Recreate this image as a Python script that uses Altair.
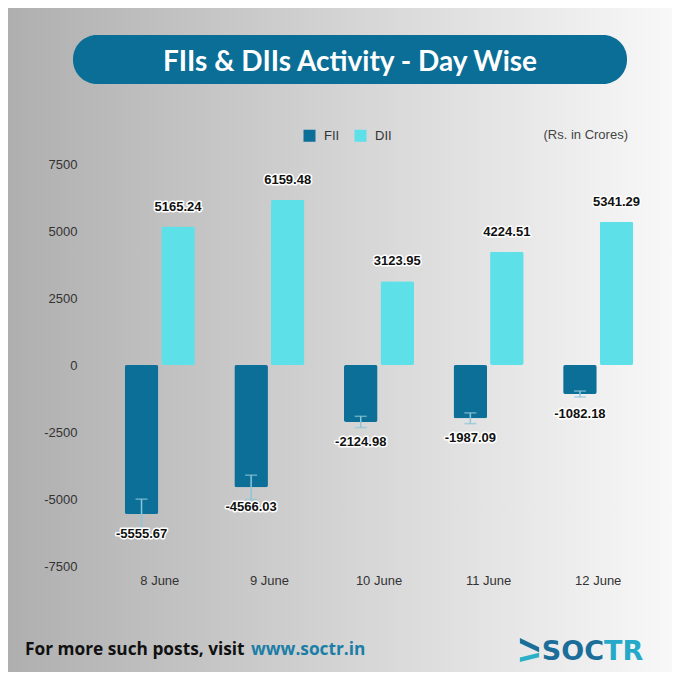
import altair as alt
import pandas as pd

# ---------------- data ----------------
days = ["8 June", "9 June", "10 June", "11 June", "12 June"]
fii = [-5555.67, -4566.03, -2124.98, -1987.09, -1082.18]
dii = [5165.24, 6159.48, 3123.95, 4224.51, 5341.29]
fii_err = [550, 455, 210, 200, 110]
series = ["FII", "DII"]
colors = ["#0c6f98", "#5ee0e8"]
y_ticks = [-7500, -5000, -2500, 0, 2500, 5000, 7500]

rows = []
for d, f, e in zip(days, fii, fii_err):
    rows.append(dict(day=d, series="FII", value=f, lo=f - e, hi=f + e, label=f"{f:.2f}"))
for d, v in zip(days, dii):
    rows.append(dict(day=d, series="DII", value=v, lo=v, hi=v, label=f"{v:.2f}"))
df = pd.DataFrame(rows)

W, H = 548, 402
one = alt.Data(values=[{"k": 1}])
AX_FONT = "Liberation Sans"

x_enc = alt.X(
    "day:N",
    scale=alt.Scale(domain=days, paddingInner=0.36, paddingOuter=0.18),
    axis=alt.Axis(title=None, labelAngle=0, ticks=False, domain=False, grid=False,
                  labelPadding=8, labelFont=AX_FONT, labelFontSize=13,
                  labelColor="#333333", zindex=2),
)
xo_enc = alt.XOffset("series:N", scale=alt.Scale(domain=series, paddingInner=0.08))
y_enc = alt.Y(
    "value:Q",
    scale=alt.Scale(domain=[-7500, 7500], nice=False),
    axis=alt.Axis(values=y_ticks, title=None, grid=False, ticks=False, domain=False,
                  labelPadding=28, labelExpr="toString(datum.value)",
                  labelFont=AX_FONT, labelFontSize=13, labelColor="#333333", zindex=2),
)

# ---------------- decorations ----------------
grad = alt.Gradient(
    gradient="linear",
    stops=[alt.GradientStop(color="#afafaf", offset=0),
           alt.GradientStop(color="#f8f8f8", offset=1)],
    x1=0, x2=1, y1=0, y2=0,
)
bg = alt.Chart(one).mark_rect(color=grad).encode(
    x=alt.value(-97), x2=alt.value(567), y=alt.value(-156), y2=alt.value(508)
)
pill = alt.Chart(one).mark_rect(color="#0b6e96", cornerRadius=24).encode(
    x=alt.value(-32), x2=alt.value(522), y=alt.value(-129), y2=alt.value(-80)
)
title = alt.Chart(one).mark_text(
    text="FIIs & DIIs Activity - Day Wise", font="Lato", fontWeight="bold",
    fontSize=28, color="white", align="center", baseline="alphabetic"
).encode(x=alt.value(245), y=alt.value(-93))
units = alt.Chart(one).mark_text(
    text="(Rs. in Crores)", font=AX_FONT, fontSize=13, color="#444444",
    align="right", baseline="middle"
).encode(x=alt.value(523), y=alt.value(-29))

# ---------------- data marks ----------------
base = alt.Chart(df)
bars = base.mark_bar(cornerRadius=2).encode(
    x=x_enc, xOffset=xo_enc, y=y_enc,
    color=alt.Color(
        "series:N",
        scale=alt.Scale(domain=series, range=colors),
        legend=alt.Legend(orient="none", legendX=198, legendY=-35, direction="horizontal",
                          title=None, symbolType="square", symbolSize=144,
                          symbolStrokeWidth=0, labelFont=AX_FONT, labelFontSize=13,
                          labelColor="#333333", columnPadding=14, labelOffset=8,
                          padding=0, zindex=2),
    ),
)
fii_only = base.transform_filter("datum.series == 'FII'")
err_col = "#8cc6d8"
rule = fii_only.mark_rule(color=err_col, strokeWidth=1.5).encode(
    x=x_enc, xOffset=xo_enc, y="lo:Q", y2="hi:Q"
)
tick_lo = fii_only.mark_tick(color=err_col, thickness=1.5, size=12).encode(
    x=x_enc, xOffset=xo_enc, y="lo:Q"
)
tick_hi = fii_only.mark_tick(color=err_col, thickness=1.5, size=12).encode(
    x=x_enc, xOffset=xo_enc, y="hi:Q"
)


def labels(filt, dy):
    src = base.transform_filter(filt)
    enc = dict(x=x_enc, xOffset=xo_enc, y="value:Q", text="label:N")
    halo = src.mark_text(font=AX_FONT, fontWeight="bold", fontSize=13, dy=dy,
                         stroke="white", strokeWidth=3, strokeJoin="round",
                         color="white", baseline="middle").encode(**enc)
    txt = src.mark_text(font=AX_FONT, fontWeight="bold", fontSize=13, dy=dy,
                        color="#111111", baseline="middle").encode(**enc)
    return [halo, txt]


lab = labels("datum.value >= 0", -20) + labels("datum.value < 0", 20)

# ---------------- footer ----------------
foot1 = alt.Chart(one).mark_text(
    text="For more such posts, visit", font="Open Sans", fontWeight="bold", fontSize=17.3,
    color="#111111", align="left", baseline="middle"
).encode(x=alt.value(-80), y=alt.value(486))
foot2 = alt.Chart(one).mark_text(
    text="www.soctr.in", font="Open Sans", fontWeight="bold", fontSize=17.3,
    color="#1b7ea7", align="left", baseline="middle"
).encode(x=alt.value(146), y=alt.value(486))

top_path = "M -0.8,-1 L 0.8,-0.22 L 0.8,0.18 L -0.8,-0.56 Z"
bot_path = "M 0.8,0.22 L 0.8,0.6 L -0.8,1 L -0.8,0.62 Z"
logo_top = alt.Chart(one).mark_point(shape=top_path, filled=True, opacity=1, size=576,
                                     color="#1b6e9a", strokeWidth=0).encode(
    x=alt.value(424.5), y=alt.value(486))
logo_bot = alt.Chart(one).mark_point(shape=bot_path, filled=True, opacity=1, size=576,
                                     color="#2bb0c8", strokeWidth=0).encode(
    x=alt.value(424.5), y=alt.value(486))
soc = alt.Chart(one).mark_text(
    text="SOC", font="DejaVu Sans", fontWeight="bold", fontSize=27, color="#1b6e9a",
    align="right", baseline="alphabetic"
).encode(x=alt.value(499), y=alt.value(496))
tr = alt.Chart(one).mark_text(
    text="TR", font="DejaVu Sans", fontWeight="bold", fontSize=27, color="#25a9c9",
    align="left", baseline="alphabetic"
).encode(x=alt.value(499), y=alt.value(496))

chart = alt.layer(
    bg, pill, title, units, bars, rule, tick_lo, tick_hi, *lab,
    foot1, foot2, logo_top, logo_bot, soc, tr
).properties(width=W, height=H, padding=0).configure_view(stroke=None)

chart.save("out.html", embed_options={"renderer": "svg", "actions": False})
